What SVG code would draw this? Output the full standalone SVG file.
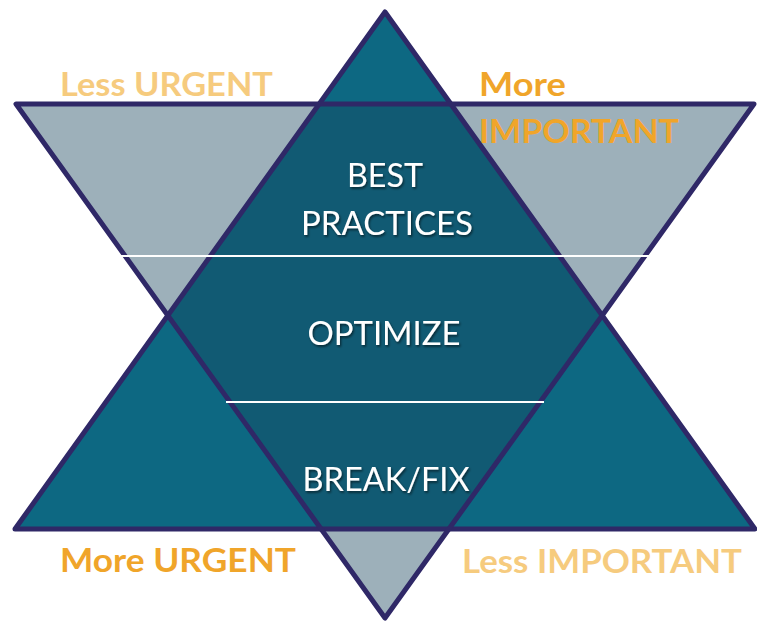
<svg xmlns="http://www.w3.org/2000/svg" width="757" height="623" viewBox="0 0 757 623">
  <defs>
    <filter id="shadow" x="-10%" y="-20%" width="130%" height="160%">
      <feDropShadow dx="1.2" dy="1.8" stdDeviation="1" flood-color="#000000" flood-opacity="0.55"/>
    </filter>
  </defs>
  <style>
    .tri-up { fill: #0d6882; }
    .tri-down { fill: #9db0ba; }
    .hex { fill: #115a73; }
    .edge { fill: none; stroke: #2f2867; stroke-width: 5; stroke-linejoin: round; }
    .divider { stroke: #ffffff; stroke-width: 2; }
    .inner { font-family: Lato, "Open Sans", "Liberation Sans", sans-serif; font-size: 33px; fill: #ffffff; text-anchor: middle; filter: url(#shadow); }
    .label { font-family: Lato, "Open Sans", "Liberation Sans", sans-serif; font-size: 32px; font-weight: bold; }
    .dark { fill: #f0a52a; }
    .light { fill: #f6cb7e; }
  </style>
  <rect width="757" height="623" fill="#ffffff"/>

  <g id="shapes">
    <polygon id="triangle-up" class="tri-up" points="385,12 755,529 15,529"/>
    <polygon id="triangle-down" class="tri-down" points="16,104 754,104 385,618"/>
    <polygon id="overlap" class="hex" points="319.2,104 450.8,104 602.2,315.5 448.9,529 321.1,529 167.8,315.5"/>
  </g>

  <g id="outlines">
    <polygon class="edge" points="385,12 755,529 15,529"/>
    <polygon class="edge" points="16,104 754,104 385,618"/>
  </g>

  <g id="connectors">
    <line class="divider" x1="119" y1="256" x2="651" y2="256"/>
    <line class="divider" x1="226" y1="402" x2="544" y2="402"/>
  </g>

  <g id="node-best-practices">
    <text class="inner" x="385" y="187" textLength="76" lengthAdjust="spacingAndGlyphs">BEST</text>
    <text class="inner" x="387" y="235" textLength="172" lengthAdjust="spacingAndGlyphs">PRACTICES</text>
  </g>
  <g id="node-optimize">
    <text class="inner" x="384" y="345" textLength="153" lengthAdjust="spacingAndGlyphs">OPTIMIZE</text>
  </g>
  <g id="node-break-fix">
    <text class="inner" x="386" y="491" textLength="167" lengthAdjust="spacingAndGlyphs">BREAK/FIX</text>
  </g>

  <g id="label-less-urgent">
    <text class="label light" x="60" y="96" textLength="213" lengthAdjust="spacingAndGlyphs">Less URGENT</text>
  </g>
  <g id="label-more-important">
    <text class="label dark" x="479" y="96" textLength="87" lengthAdjust="spacingAndGlyphs">More</text>
    <text class="label dark" x="479" y="143" textLength="200" lengthAdjust="spacingAndGlyphs">IMPORTANT</text>
  </g>
  <g id="label-more-urgent">
    <text class="label dark" x="60" y="572" textLength="236" lengthAdjust="spacingAndGlyphs">More URGENT</text>
  </g>
  <g id="label-less-important">
    <text class="label light" x="462" y="573" textLength="280" lengthAdjust="spacingAndGlyphs">Less IMPORTANT</text>
  </g>
</svg>
